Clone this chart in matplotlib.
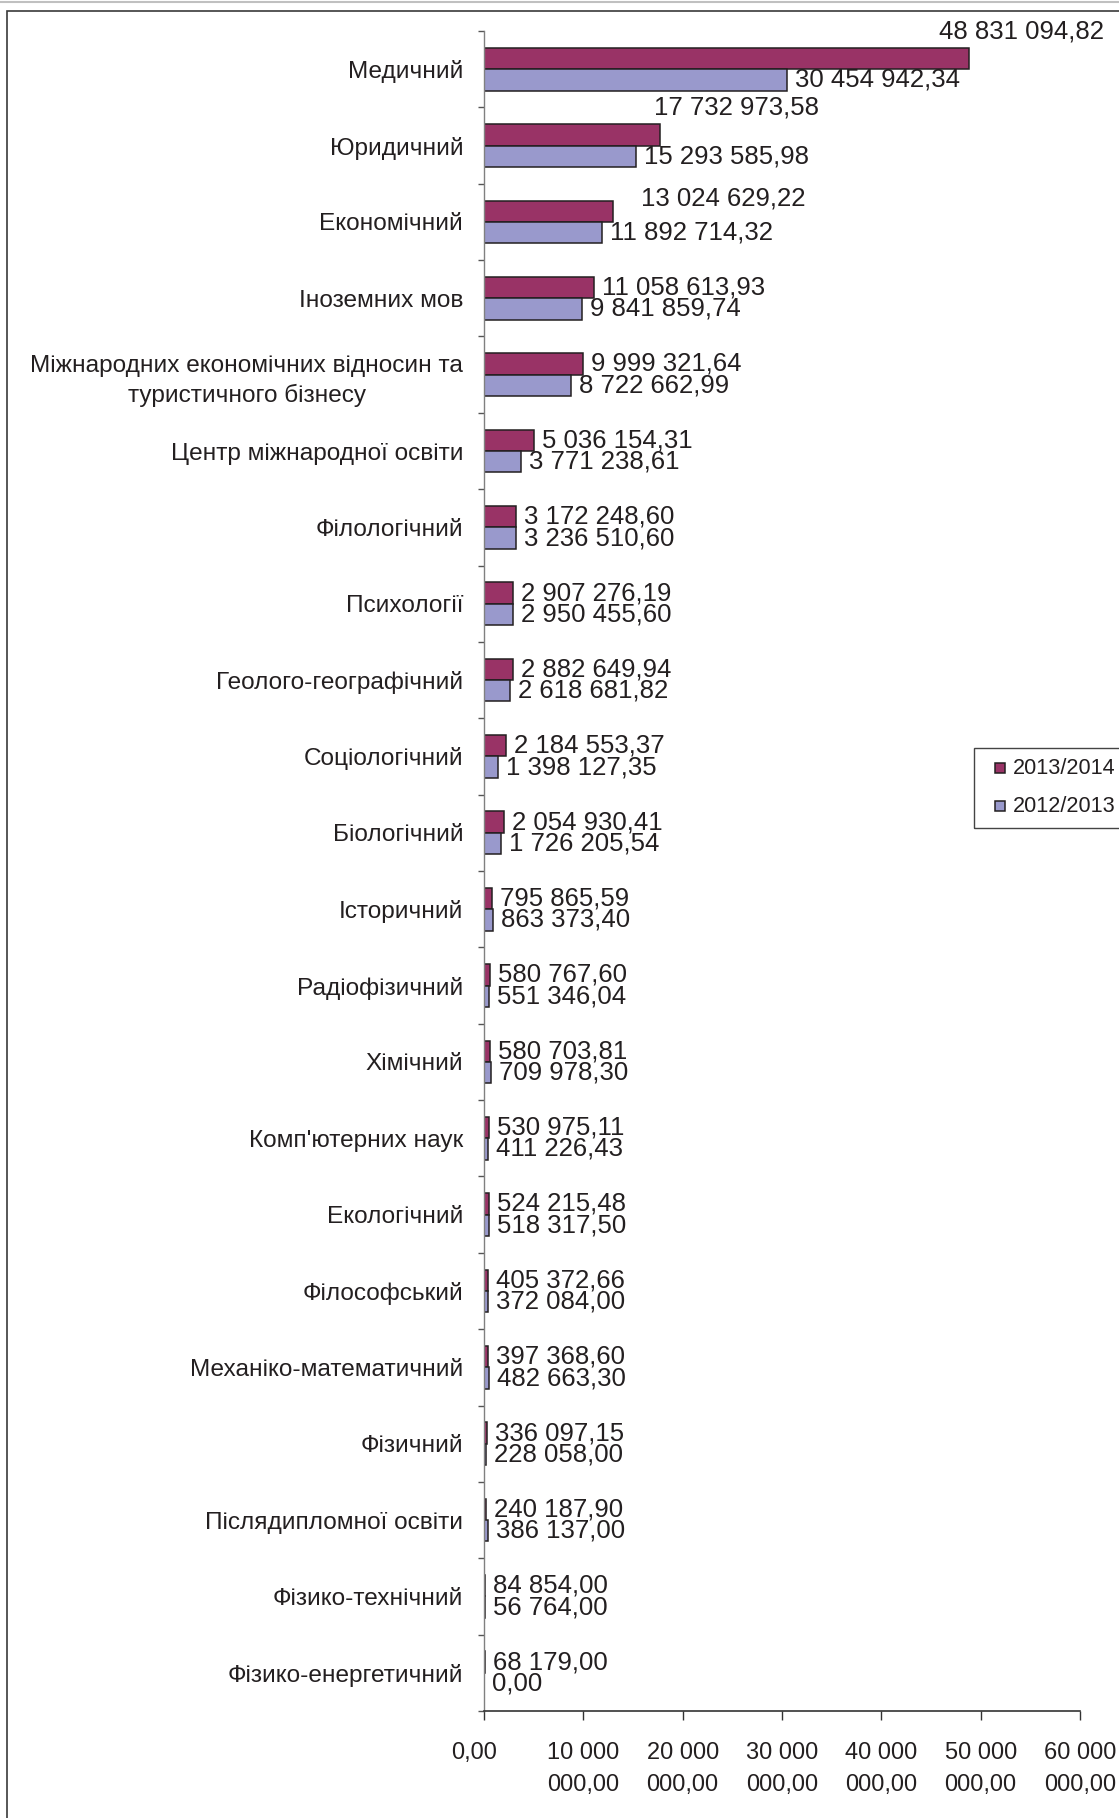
import matplotlib
matplotlib.use("Agg")
import matplotlib.pyplot as plt
from matplotlib.patches import Rectangle
from matplotlib.lines import Line2D
from matplotlib.transforms import ScaledTranslation

plt.rcParams['font.family'] = ['Liberation Sans', 'DejaVu Sans']

categories = [
    "Медичний", "Юридичний", "Економічний", "Іноземних мов",
    "Міжнародних економічних відносин та\nтуристичного бізнесу",
    "Центр міжнародної освіти", "Філологічний", "Психології",
    "Геолого-географічний", "Соціологічний", "Біологічний", "Історичний",
    "Радіофізичний", "Хімічний", "Комп'ютерних наук", "Екологічний",
    "Філософський", "Механіко-математичний", "Фізичний",
    "Післядипломної освіти", "Фізико-технічний", "Фізико-енергетичний",
]
series_names = ["2013/2014", "2012/2013"]
values_2013_2014 = [
    48831094.82, 17732973.58, 13024629.22, 11058613.93, 9999321.64,
    5036154.31, 3172248.60, 2907276.19, 2882649.94, 2184553.37,
    2054930.41, 795865.59, 580767.60, 580703.81, 530975.11, 524215.48,
    405372.66, 397368.60, 336097.15, 240187.90, 84854.00, 68179.00,
]
values_2012_2013 = [
    30454942.34, 15293585.98, 11892714.32, 9841859.74, 8722662.99,
    3771238.61, 3236510.60, 2950455.60, 2618681.82, 1398127.35,
    1726205.54, 863373.40, 551346.04, 709978.30, 411226.43, 518317.50,
    372084.00, 482663.30, 228058.00, 386137.00, 56764.00, 0.00,
]
x_ticks = [0, 10e6, 20e6, 30e6, 40e6, 50e6, 60e6]
x_tick_labels = ["0,00", "10 000\n000,00", "20 000\n000,00", "30 000\n000,00",
                 "40 000\n000,00", "50 000\n000,00", "60 000\n000,00"]

colors = ["#993366", "#9999CC"]
edge = "#231F20"

W, H = 1119, 1818
DPI = 100
fig = plt.figure(figsize=(W / DPI, H / DPI), dpi=DPI)

def px(x, y):
    return x / W, 1 - y / H

ax_l, ax_r, ax_t, ax_b = 484, 1080, 31, 1711
ax = fig.add_axes([ax_l / W, 1 - ax_b / H, (ax_r - ax_l) / W, (ax_b - ax_t) / H])

n = len(categories)
pos = list(range(n))
bh = 0.28
ax.barh([p - bh / 2 for p in pos], values_2013_2014, height=bh, color=colors[0],
        edgecolor=edge, linewidth=1.1)
ax.barh([p + bh / 2 for p in pos], values_2012_2013, height=bh, color=colors[1],
        edgecolor=edge, linewidth=1.1)

ax.set_xlim(0, 60e6)
ax.set_ylim(n - 0.5, -0.5)

def fmt(v):
    s = f"{v:,.2f}"
    return s.replace(",", " ").replace(".", ",")

P = 0.72  # points per pixel
default_off = (8, 0)
special_off_2014 = {0: (-30, 27), 1: (-6, 27), 2: (28, 13)}
for i in pos:
    dx, dy = special_off_2014.get(i, default_off)
    ax.annotate(fmt(values_2013_2014[i]), xy=(values_2013_2014[i], i - bh / 2),
                xytext=(dx * P, dy * P), textcoords="offset points",
                ha="left", va="center", fontsize=18.5, color="#231F20",
                annotation_clip=False)
    ax.annotate(fmt(values_2012_2013[i]), xy=(values_2012_2013[i], i + bh / 2),
                xytext=(8 * P, 0), textcoords="offset points",
                ha="left", va="center", fontsize=18.5, color="#231F20",
                annotation_clip=False)

ax.set_yticks(pos)
ax.set_yticklabels(categories, fontsize=17.6, color="#231F20", multialignment="center",
                   linespacing=1.4)
shift = ScaledTranslation(0, 4.5 / DPI, fig.dpi_scale_trans)
for lab in ax.get_yticklabels():
    lab.set_transform(lab.get_transform() + shift)
ax.set_yticks([p - 0.5 for p in range(n + 1)], minor=True)
ax.tick_params(axis="y", which="major", length=0, pad=15)
ax.tick_params(axis="y", which="minor", length=4.5, direction="out", color="#555555", width=1)

ax.set_xticks(x_ticks)
ax.set_xticklabels(x_tick_labels, fontsize=17, color="#231F20", linespacing=1.55)
ax.tick_params(axis="x", which="major", length=6.5, direction="out", color="#333333",
               width=1, pad=16)
first = ax.get_xticklabels()[0]
first.set_transform(first.get_transform() + ScaledTranslation(-10 / DPI, 0, fig.dpi_scale_trans))

for s in ["top", "right"]:
    ax.spines[s].set_visible(False)
ax.spines["left"].set_color("#808080")
ax.spines["left"].set_linewidth(1)
ax.spines["bottom"].set_color("#333333")
ax.spines["bottom"].set_linewidth(1.2)
ax.set_facecolor("none")

# outer frame
x0, y0 = px(7, 11)
x1, y1 = px(1135, 1830)
fig.patches.append(Rectangle((x0, y1), x1 - x0, y0 - y1, transform=fig.transFigure,
                             fill=False, edgecolor="#3a3a3a", linewidth=1.2))
fig.lines.append(Line2D([0, 1], [1 - 1.5 / H, 1 - 1.5 / H], transform=fig.transFigure,
                        color="#c0c0c0", linewidth=1.5))

# legend box
lx0, ly0 = px(974, 748)
lx1, ly1 = px(1140, 828)
fig.patches.append(Rectangle((lx0, ly1), lx1 - lx0, ly0 - ly1, transform=fig.transFigure,
                             fill=False, edgecolor="#444444", linewidth=1.0))
for k, (name, c) in enumerate(zip(series_names, colors)):
    cy = 768 + k * 38
    mx, my = px(995, cy + 5)
    fig.patches.append(Rectangle((mx, my), 10 / W, 10 / H, transform=fig.transFigure,
                                 facecolor=c, edgecolor=edge, linewidth=1.1))
    tx, ty = px(1013, cy)
    fig.text(tx, ty, name, ha="left", va="center", fontsize=15.6, color="#231F20")

fig.savefig("out.png", dpi=DPI)
